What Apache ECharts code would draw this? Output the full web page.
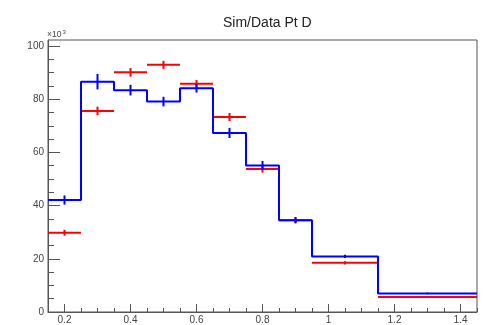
<!DOCTYPE html>
<html><head><meta charset="utf-8">
<script src="https://cdn.jsdelivr.net/npm/echarts@6/dist/echarts.min.js"></script>
<style>html,body{margin:0;padding:0;background:#fff}#c{width:483px;height:325px}</style>
</head><body><div id="c"></div>
<script>
var binEdges = [0.15,0.25,0.35,0.45,0.55,0.65,0.75,0.85,0.95,1.15,1.45];
var simValues = [42.1,86.6,83.4,79.1,84.1,67.3,55.1,34.5,20.9,7.0];
var simErrors = [1.7,2.9,2.0,1.8,1.6,1.9,1.7,1.2,0.6,0.3];
var dataValues = [29.8,75.6,90.1,92.9,85.8,73.3,53.8,34.5,18.5,5.6];
var dataErrors = [1.1,1.6,1.6,1.5,1.4,1.5,1.4,1.0,0.6,0.3];
var xMajorTicks = [0.2,0.4,0.6,0.8,1.0,1.2,1.4];
var xMinorTicks = [0.15,0.25,0.3,0.35,0.45,0.5,0.55,0.65,0.7,0.75,0.85,0.9,0.95,1.05,1.1,1.15,1.25,1.3,1.35,1.45];
var yMajorTicks = [0,20,40,60,80,100];
var yMinorTicks = [5,10,15,25,30,35,45,50,55,65,70,75,85,90,95];

var stepData = [];
for (var i = 0; i < simValues.length; i++) stepData.push([binEdges[i], simValues[i]]);
stepData.push([binEdges[binEdges.length-1], simValues[simValues.length-1]]);

function binRows(vals, errs) {
  var rows = [];
  for (var i = 0; i < vals.length; i++) rows.push([binEdges[i], binEdges[i+1], vals[i], errs[i]]);
  return rows;
}

function makeRender(color, withWidth) {
  return function (params, api) {
    var lo = api.value(0), hi = api.value(1), v = api.value(2), e = api.value(3);
    var c = (lo + hi) / 2;
    var children = [];
    var p1 = api.coord([c, v - e]), p2 = api.coord([c, v + e]);
    children.push({type:'line', shape:{x1:p1[0],y1:p1[1],x2:p2[0],y2:p2[1]}, style:{stroke:color,lineWidth:2}});
    if (withWidth) {
      var a = api.coord([lo, v]), b = api.coord([hi, v]);
      children.push({type:'line', shape:{x1:a[0],y1:a[1],x2:b[0],y2:b[1]}, style:{stroke:color,lineWidth:2}});
    }
    return {type:'group', children:children};
  };
}

var axisColor = '#555';
var labelStyle = {color:'#444', fontSize:10, fontFamily:'Liberation Sans, Arial, sans-serif'};
function fmt(v){ return String(Math.round(v*100)/100); }

var chart = echarts.init(document.getElementById('c'), null, {renderer:'canvas'});
chart.setOption({
  animation:false,
  backgroundColor:'#fff',
  title:{text:'Sim/Data Pt D', left:218, top:11,
    textStyle:{fontSize:14, fontWeight:'normal', color:'#222', fontFamily:'Liberation Sans, Arial, sans-serif'}},
  grid:{left:48, right:6, top:40, bottom:12, show:true, borderColor:axisColor, borderWidth:1, backgroundColor:'transparent'},
  graphic:[{type:'text', left:47, top:29, style:{text:'{a|×10}{b|3}', rich:{
    a:{fontSize:8.5, fill:'#444', fontFamily:'Liberation Sans, Arial, sans-serif', verticalAlign:'bottom'},
    b:{fontSize:6, fill:'#444', fontFamily:'Liberation Sans, Arial, sans-serif', verticalAlign:'top', padding:[0,0,4,1]}}}}],
  xAxis:[
    {type:'value', min:0.15, max:1.45, position:'bottom',
     axisLine:{show:true, lineStyle:{color:axisColor}},
     axisTick:{show:true, inside:true, length:8, customValues:xMajorTicks, lineStyle:{color:axisColor}},
     axisLabel:{customValues:xMajorTicks, formatter:fmt, margin:3, ...labelStyle},
     splitLine:{show:false}},
    {type:'value', min:0.15, max:1.45, position:'bottom', offset:0,
     axisLine:{show:false},
     axisTick:{show:true, inside:true, length:4, customValues:xMinorTicks, lineStyle:{color:axisColor}},
     axisLabel:{show:false}, splitLine:{show:false}}
  ],
  yAxis:[
    {type:'value', min:0, max:102.25, position:'left',
     axisLine:{show:true, lineStyle:{color:axisColor}},
     axisTick:{show:true, inside:true, length:12, customValues:yMajorTicks, lineStyle:{color:axisColor}},
     axisLabel:{customValues:yMajorTicks, margin:4, ...labelStyle},
     splitLine:{show:false}},
    {type:'value', min:0, max:102.25, position:'left', offset:0,
     axisLine:{show:false},
     axisTick:{show:true, inside:true, length:6, customValues:yMinorTicks, lineStyle:{color:axisColor}},
     axisLabel:{show:false}, splitLine:{show:false}}
  ],
  series:[
    {type:'custom', name:'Data', xAxisIndex:0, yAxisIndex:0, renderItem:makeRender('#ff0000', true),
     data:binRows(dataValues, dataErrors), z:2, clip:true},
    {type:'line', name:'Sim', xAxisIndex:0, yAxisIndex:0, step:'end', showSymbol:false, symbol:'none',
     data:stepData, lineStyle:{color:'#0000ff', width:2}, z:3},
    {type:'custom', name:'SimErr', xAxisIndex:0, yAxisIndex:0, renderItem:makeRender('#0000ff', false),
     data:binRows(simValues, simErrors), z:4, clip:true}
  ]
});
</script></body></html>
